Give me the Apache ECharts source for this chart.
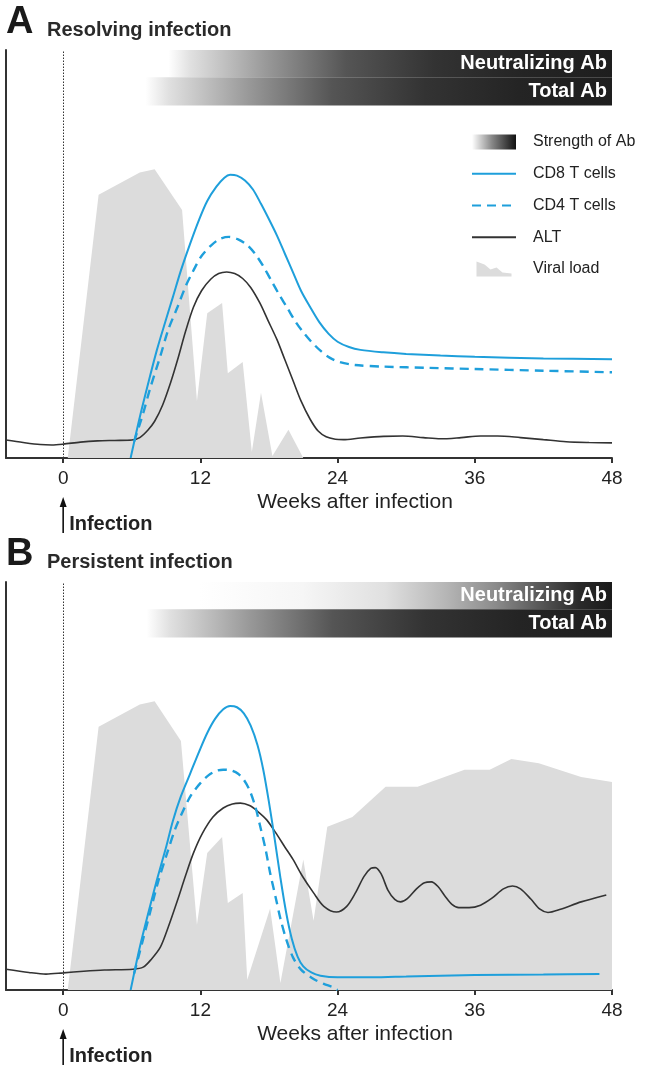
<!DOCTYPE html>
<html>
<head>
<meta charset="utf-8">
<script src="https://cdn.jsdelivr.net/npm/echarts@6/dist/echarts.min.js"></script>
<style>
html, body { margin: 0; padding: 0; background: #fff; }
#chart { width: 647px; height: 1067px; }
</style>
</head>
<body>
<div id="chart"></div>
<script>
// ---- data (weeks after infection, relative level 0-100) ----
const xTicks = [0, 12, 24, 36, 48]
const panelTitles = ['Resolving infection', 'Persistent infection']
const panelLetters = ['A', 'B']
const abNames = ['Neutralizing Ab', 'Total Ab']
const abStartA = [9.2, 7.2]
const abStartB = [11.9, 7.3]

const viralA = [[0.4, 0], [3.1, 64.5], [6.7, 70], [8, 70.8], [10.4, 60.8], [11.7, 14], [12.6, 35.5], [13.9, 38],
  [14.4, 20.8], [15.7, 23.5], [16.5, 1.5], [17.3, 16], [18.3, 0.5], [19.7, 6.9], [21, 0]]
const cd8A = [[5.9, 0], [6.7, 10], [7.5, 19], [8.2, 26.5], [9, 34], [9.6, 39.5], [10.3, 46], [11.1, 52.5],
  [11.9, 58.5], [12.6, 63], [13.4, 66.5], [14.1, 68.7], [14.6, 69.4], [15.2, 69.2], [15.9, 68], [16.6, 65.8],
  [17.3, 62.3], [18, 58.5], [18.7, 54.5], [19.4, 50], [20.1, 45.5], [20.8, 41], [21.6, 37], [22.4, 33.3],
  [23.2, 30.5], [24, 28.5], [25, 27.2], [26, 26.5], [28, 25.9], [30, 25.5], [33, 25.1], [36, 24.8], [42, 24.4],
  [48, 24.2]]
const cd4A = [[6.2, 4], [7, 11], [7.6, 17], [8.5, 25], [9.2, 31.5], [10, 37], [10.7, 42], [11.4, 46], [12.1, 49.5],
  [12.9, 52], [13.7, 53.7], [14.5, 54.2], [15.3, 53.6], [16.1, 52.2], [16.8, 50], [17.5, 47], [18.2, 43.5],
  [18.9, 40], [19.6, 36.8], [20.3, 33.5], [21, 30.8], [21.7, 28.5], [22.5, 26.3], [23.3, 24.6], [24.2, 23.5],
  [25.5, 22.8], [28, 22.4], [32, 22.1], [36, 21.8], [42, 21.4], [48, 21]]
const altA = [[-5, 4.4], [-3.5, 3.8], [-2, 3.3], [-1, 3.2], [0, 3.4], [1.5, 3.9], [3, 4.2], [4.5, 4.3], [6, 4.4],
  [6.7, 5], [7.4, 6.8], [8, 9], [8.7, 13], [9.4, 18.5], [10, 24], [10.7, 31], [11.4, 37], [12.1, 41], [12.9, 43.8],
  [13.6, 45.2], [14.3, 45.6], [15, 45.2], [15.7, 44], [16.4, 41.8], [17.2, 38], [17.9, 33.8], [18.7, 29],
  [19.4, 24], [20.1, 19], [20.8, 14], [21.6, 9.5], [22.3, 6.6], [23, 5.2], [23.8, 4.6], [24.5, 4.5], [26, 4.9],
  [28, 5.3], [29.7, 5.4], [31.5, 5], [33, 4.7], [34.8, 5], [36.5, 5.4], [38, 5.4], [40, 5], [42, 4.5], [44, 4],
  [46, 3.8], [48, 3.7]]

const viralB = [[0.4, 0], [3.1, 64.5], [6.7, 70], [8, 70.8], [10.3, 61], [11.7, 16], [12.6, 33.6], [13.9, 37.5],
  [14.4, 21.3], [15.7, 23.8], [16.1, 2.5], [18.1, 20], [19, 1.7], [21, 32], [21.9, 17], [23.1, 40], [25.3, 42.4],
  [28.2, 49.8], [31, 49.8], [35.1, 54], [37.3, 54], [39.2, 56.6], [41.6, 55.6], [45.3, 52.2], [48, 51]]
const cd8B = [[5.9, 0], [6.7, 10.5], [7.5, 19.5], [8.2, 27], [9, 35], [9.6, 41.5], [10.3, 47.5], [11.1, 53],
  [11.9, 58.5], [12.6, 63], [13.3, 66.5], [14, 68.8], [14.6, 69.6], [15.2, 69.3], [15.8, 67.8], [16.4, 64.8],
  [17, 60], [17.5, 54], [18, 46], [18.5, 37], [19, 27.5], [19.5, 19], [20, 12.5], [20.5, 8.2], [21, 5.8],
  [21.7, 4.3], [22.5, 3.5], [24, 3.1], [27, 3.1], [30, 3.3], [36, 3.7], [42, 3.8], [46.9, 3.9]]
const cd4B = [[6.2, 4], [6.9, 11.5], [7.6, 19], [8.3, 26.5], [9.1, 33.6], [9.8, 39.5], [10.5, 44], [11.2, 47.8],
  [12, 50.7], [12.7, 52.6], [13.4, 53.7], [14, 54], [14.7, 53.8], [15.3, 53], [15.8, 51.5], [16.3, 49],
  [16.8, 45], [17.2, 40.5], [17.7, 34.5], [18.1, 28.7], [18.6, 22.5], [19, 17.5], [19.5, 12.5], [20.1, 8],
  [20.8, 5], [21.9, 2.7], [22.8, 1.5], [23.6, 0.7], [24, 0]]
const altB = [[-5, 5.1], [-3, 4.3], [-1.5, 3.9], [0, 4.2], [1.8, 4.6], [3.6, 4.9], [6.1, 5.1], [7, 5.6], [7.7, 7.5],
  [8.5, 10.5], [9.2, 15.5], [10, 22], [10.7, 28], [11.4, 33.6], [12.2, 38.5], [13.1, 42.4], [14, 44.6],
  [14.8, 45.6], [15.5, 45.8], [16.3, 45.2], [17, 43.8], [17.8, 41.7], [18.6, 38.5], [19.4, 35], [20.1, 32],
  [20.9, 28], [21.9, 23.8], [22.8, 20.5], [23.9, 19.1], [24.8, 20.5], [25.6, 24], [26.3, 27.8], [26.9, 29.8],
  [27.3, 30], [27.8, 28.5], [28.4, 24.5], [29, 22.2], [29.5, 21.6], [30.1, 22.4], [30.9, 24.8], [31.6, 26.3],
  [32.2, 26.5], [32.8, 25.3], [33.4, 23], [34, 21], [34.6, 20.2], [35.5, 20.2], [36.5, 20.8], [37.5, 22.5],
  [38.5, 24.8], [39.3, 25.5], [40, 24.8], [40.9, 22.3], [41.7, 19.8], [42.4, 19], [43.5, 19.8], [45.3, 21.6],
  [47.5, 23.3]]

// ---- styles ----
const FONT = "'Liberation Sans', Arial, sans-serif"
const BLUE = '#1e9fdb'
const GRAY = '#dcdcdc'
const INK = '#222'
const SMOOTH = 0.3

const grad = stops => new echarts.graphic.LinearGradient(0, 0, 1, 0, stops.map(([o, c]) => ({ offset: o, color: c })))
const darkGrad = () => grad([[0, '#ffffff'], [0.05, '#e0e0e0'], [0.22, '#999'], [0.4, '#555'], [0.6, '#333'], [0.8, '#242424'], [1, '#1e1e1e']])
const lateGrad = () => grad([[0, '#ffffff'], [0.25, '#f6f6f6'], [0.45, '#e0e0e0'], [0.6, '#b5b5b5'], [0.72, '#8a8a8a'], [0.83, '#555'], [0.92, '#2a2a2a'], [1, '#1a1a1a']])

const panelSeries = (i, viral, cd8, cd4, alt, abStart, neutGrad) => {
  const ax = { xAxisIndex: i, yAxisIndex: i, symbol: 'none', animation: false }
  return [
    {
      ...ax, name: 'Viral load', type: 'line', data: viral, z: 1,
      lineStyle: { width: 0 }, itemStyle: { color: GRAY }, areaStyle: { color: GRAY, opacity: 1 },
      markArea: {
        silent: true,
        label: { show: true, position: 'insideRight', distance: 5, color: '#fff', fontFamily: FONT, fontSize: 20, fontWeight: 'bold' },
        data: [
          [{ name: abNames[0], coord: [abStart[0], 100], itemStyle: { color: neutGrad } }, { coord: [48, 93.3] }],
          [{ name: abNames[1], coord: [abStart[1], 93.3], itemStyle: { color: darkGrad() } }, { coord: [48, 86.4] }],
        ],
      },
      markLine: {
        silent: true, symbol: ['none', 'none'], label: { show: false },
        lineStyle: { type: [1.5, 1.5], color: '#333', width: 1 },
        data: [{ xAxis: 0 }],
      },
    },
    { ...ax, name: 'ALT', type: 'line', data: alt, smooth: SMOOTH, z: 3, itemStyle: { color: '#333' }, lineStyle: { color: '#333', width: 1.6 } },
    { ...ax, name: 'CD4 T cells', type: 'line', data: cd4, smooth: SMOOTH, z: 4, itemStyle: { color: BLUE }, lineStyle: { color: BLUE, width: 2.4, type: [9, 6] } },
    { ...ax, name: 'CD8 T cells', type: 'line', data: cd8, smooth: SMOOTH, z: 5, itemStyle: { color: BLUE }, lineStyle: { color: BLUE, width: 2 } },
  ]
}

const xAxisFor = i => ({
  gridIndex: i, type: 'value', min: -5, max: 48,
  axisLine: { show: true, onZero: false, lineStyle: { color: '#333', width: 2 } },
  axisTick: { show: true, length: 5, customValues: xTicks, lineStyle: { color: '#333', width: 2 } },
  axisLabel: { customValues: xTicks, fontFamily: FONT, fontSize: 19, color: INK, margin: 11 },
  splitLine: { show: false },
  name: 'Weeks after infection', nameLocation: 'middle', nameGap: 34,
  nameTextStyle: { fontFamily: FONT, fontSize: 21, color: INK, padding: [0, 0, 0, 92] },
})
const yAxisFor = i => ({
  gridIndex: i, type: 'value', min: 0, max: 100,
  axisLine: { show: true, onZero: false, lineStyle: { color: '#333', width: 2 } },
  axisTick: { show: false }, axisLabel: { show: false }, splitLine: { show: false },
})

const titleFor = (i, top) => [
  { text: panelLetters[i], left: 6, top: top + 2, padding: 0, textStyle: { fontFamily: FONT, fontSize: 38, lineHeight: 38, fontWeight: 'bold', color: '#1a1a1a' } },
  { text: panelTitles[i], left: 47, top: top + 18, padding: 0, textStyle: { fontFamily: FONT, fontSize: 20, lineHeight: 20, fontWeight: 'bold', color: '#2a2a2a' } },
]

const chart = echarts.init(document.getElementById('chart'))
const noSymbol = { itemStyle: { opacity: 0 } }

chart.setOption({
  animation: false,
  backgroundColor: '#fff',
  title: [...titleFor(0, 2), ...titleFor(1, 534)],
  grid: [
    { left: 6, top: 50, width: 606, height: 408 },
    { left: 6, top: 582, width: 606, height: 408 },
  ],
  xAxis: [xAxisFor(0), xAxisFor(1)],
  yAxis: [yAxisFor(0), yAxisFor(1)],
  legend: {
    orient: 'vertical', left: 471, top: 134, padding: 0, itemWidth: 44, itemHeight: 15, itemGap: 15.75,
    selectedMode: false,
    textStyle: { fontFamily: FONT, fontSize: 16, color: INK, padding: [0, 0, 0, 12] },
    data: [
      { name: 'Strength of Ab', icon: 'rect' },
      { name: 'CD8 T cells', ...noSymbol },
      { name: 'CD4 T cells', ...noSymbol },
      { name: 'ALT', ...noSymbol },
      { name: 'Viral load', icon: 'path://M0,0 L8,3 L14,8 L20,6 L26,11 L35,12 L35,15 L0,15 Z' },
    ],
  },
  series: [
    {
      name: 'Strength of Ab', type: 'line', data: [], xAxisIndex: 0, yAxisIndex: 0, symbol: 'none',
      itemStyle: { color: grad([[0, '#ffffff'], [0.45, '#888'], [1, '#111']]) },
    },
    ...panelSeries(0, viralA, cd8A, cd4A, altA, abStartA, darkGrad()),
    ...panelSeries(1, viralB, cd8B, cd4B, altB, abStartB, lateGrad()),
  ],
})

// infection arrows under the week-0 tick
const graphic = []
;[0, 1].forEach(i => {
  const [px, py] = chart.convertToPixel({ xAxisIndex: i, yAxisIndex: i }, [0, 0])
  graphic.push({ type: 'line', shape: { x1: px, y1: py + 75, x2: px, y2: py + 46 }, style: { stroke: '#111', lineWidth: 1.6 } })
  graphic.push({ type: 'polygon', shape: { points: [[px - 3.5, py + 49], [px + 3.5, py + 49], [px, py + 39]] }, style: { fill: '#111' } })
  graphic.push({ type: 'text', x: px + 6, y: py + 66, style: { text: 'Infection', font: 'bold 20px ' + FONT, fill: INK, verticalAlign: 'middle' } })
})
chart.setOption({ graphic })
</script>
</body>
</html>
